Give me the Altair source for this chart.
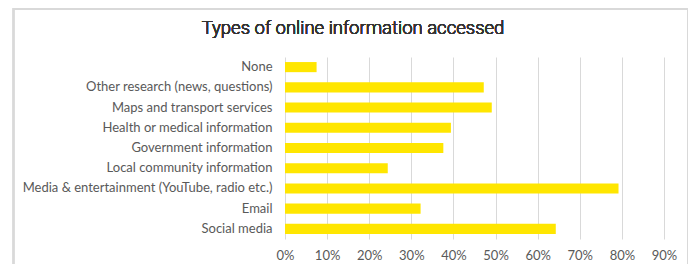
import altair as alt
import pandas as pd

categories = [
    "None",
    "Other research (news, questions)",
    "Maps and transport services\u00a0",
    "Health or medical information",
    "Government information",
    "Local community information\u00a0",
    "Media & entertainment (YouTube, radio etc.)",
    "Email",
    "Social media",
]
values = [0.075, 0.472, 0.491, 0.394, 0.376, 0.244, 0.792, 0.322, 0.643]
x_ticks = [0, 0.1, 0.2, 0.3, 0.4, 0.5, 0.6, 0.7, 0.8, 0.9]

df = pd.DataFrame({"category": categories, "value": values})

FONT = "Lato"
GRAY = "#595959"

bars = alt.Chart(df).mark_bar(color="#FFE600").encode(
    x=alt.X(
        "value:Q",
        scale=alt.Scale(domain=[0, 0.9], nice=False),
        axis=alt.Axis(
            values=x_ticks,
            format=".0%",
            title=None,
            grid=True,
            gridColor="#d9d9d9",
            gridWidth=1,
            domain=False,
            ticks=False,
            labelFlush=False,
            labelPadding=10,
            labelFont=FONT,
            labelFontSize=13,
            labelColor=GRAY,
        ),
    ),
    y=alt.Y(
        "category:N",
        sort=categories,
        scale=alt.Scale(paddingInner=0.5, paddingOuter=0.25),
        axis=alt.Axis(
            title=None,
            domain=False,
            ticks=False,
            labelPadding=13,
            labelFont=FONT,
            labelFontSize=13,
            labelColor=GRAY,
            labelLimit=400,
        ),
    ),
)

frame = alt.Chart(df).mark_rect(
    fill=None, stroke="#d9d9d9", strokeWidth=1.5
).encode(
    x=alt.value(-271.5),
    x2=alt.value(403),
    y=alt.value(-48),
    y2=alt.value(215),
)

title_text = alt.Chart(df).mark_text(
    text="Types of online information accessed",
    font="Roboto",
    fontSize=18.5,
    fontWeight=300,
    color="#333333",
    align="center",
    baseline="alphabetic",
).encode(
    x=alt.value(68),
    y=alt.value(-23),
)

chart = alt.layer(frame, bars, title_text).properties(
    width=379,
    height=182,
    padding={"left": 277, "top": 49, "right": 24, "bottom": 25},
    autosize=alt.AutoSizeParams(type="none"),
).configure_view(stroke=None)

chart.save("out.html", embed_options={"renderer": "svg", "actions": False})
